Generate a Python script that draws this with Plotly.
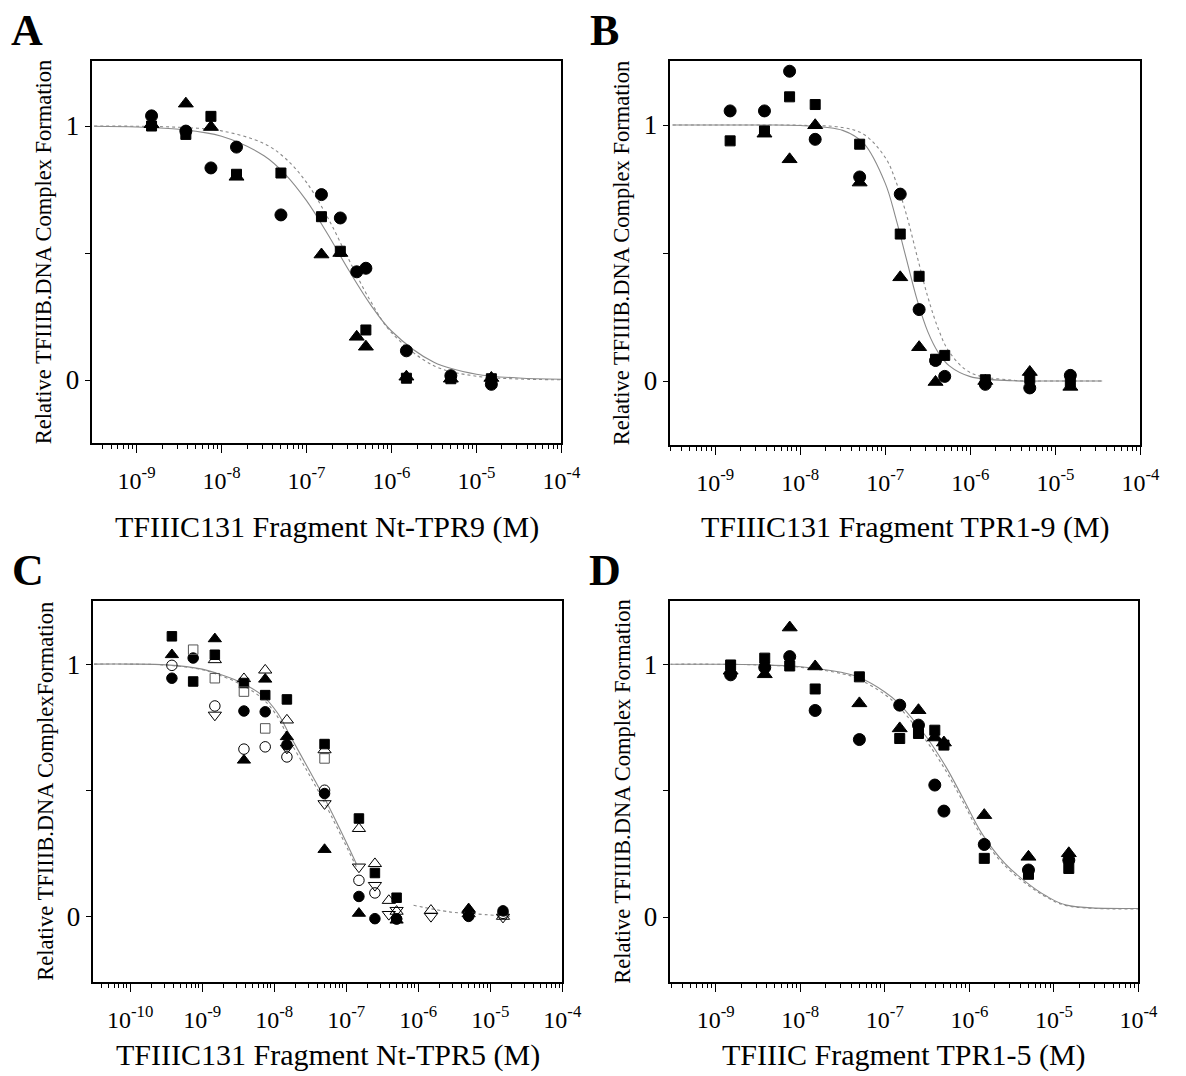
import plotly.graph_objects as go

W, H = 1186, 1076
FONT = "Liberation Serif"

# ---------------- Panel A : Nt-TPR9 ----------------
a_circ_x = [1.5e-9, 3.8e-9, 7.5e-9, 1.5e-8, 5e-8, 1.5e-7, 2.5e-7, 3.9e-7, 5e-7, 1.5e-6, 5e-6, 1.5e-5]
a_circ_y = [1.04, 0.98, 0.835, 0.917, 0.65, 0.73, 0.638, 0.426, 0.44, 0.115, 0.017, -0.017]
a_sq_x = [1.5e-9, 3.8e-9, 7.5e-9, 1.5e-8, 5e-8, 1.5e-7, 2.5e-7, 5e-7, 1.5e-6, 5e-6, 1.5e-5]
a_sq_y = [1.0, 0.967, 1.038, 0.81, 0.815, 0.643, 0.507, 0.197, 0.007, 0.005, 0.005]
a_tri_x = [1.5e-9, 3.8e-9, 7.5e-9, 1.5e-8, 1.5e-7, 2.5e-7, 3.9e-7, 5e-7, 1.5e-6, 5e-6, 1.5e-5]
a_tri_y = [1.007, 1.088, 0.996, 0.80, 0.494, 0.50, 0.17, 0.131, 0.013, 0.005, 0.008]
a_fit_x = [3.16e-10, 1e-9, 3.16e-9, 1e-8, 3.16e-8, 5.62e-8, 1e-7, 1.78e-7, 3.16e-7, 5.62e-7, 1e-6, 3.16e-6, 1e-5, 3.16e-5, 1e-4]
a_fit1_y = [0.999, 0.996, 0.987, 0.960, 0.883, 0.810, 0.706, 0.574, 0.431, 0.299, 0.193, 0.070, 0.023, 0.008, 0.003]
a_fit2_y = [1.0, 0.999, 0.995, 0.981, 0.931, 0.873, 0.778, 0.639, 0.473, 0.313, 0.187, 0.056, 0.015, 0.004, 0.001]

# ---------------- Panel B : TPR1-9 ----------------
b_circ_x = [1.5e-9, 3.8e-9, 7.5e-9, 1.5e-8, 5e-8, 1.5e-7, 2.5e-7, 3.9e-7, 5e-7, 1.5e-6, 5e-6, 1.5e-5]
b_circ_y = [1.055, 1.055, 1.21, 0.944, 0.797, 0.73, 0.279, 0.08, 0.018, -0.013, -0.027, 0.022]
b_sq_x = [1.5e-9, 3.8e-9, 7.5e-9, 1.5e-8, 5e-8, 1.5e-7, 2.5e-7, 3.9e-7, 5e-7, 1.5e-6, 5e-6, 1.5e-5]
b_sq_y = [0.938, 0.977, 1.11, 1.08, 0.925, 0.574, 0.409, 0.085, 0.10, 0.005, 0.01, -0.004]
b_tri_x = [3.8e-9, 7.5e-9, 1.5e-8, 5e-8, 1.5e-7, 2.5e-7, 3.9e-7, 1.5e-6, 5e-6, 1.5e-5]
b_tri_y = [0.966, 0.866, 0.999, 0.775, 0.405, 0.132, -0.004, 0.0, 0.035, -0.023]
b_fit_x = [3.16e-10, 1e-9, 3.16e-9, 1e-8, 3.16e-8, 5.62e-8, 1e-7, 1.33e-7, 1.78e-7, 2.37e-7, 3.16e-7,
           4.22e-7, 5.62e-7, 1e-6, 3.16e-6, 1e-5, 3.55e-5]
b_fit1_y = [1.0, 1.0, 1.0, 0.998, 0.979, 0.927, 0.772, 0.636, 0.474, 0.317, 0.193, 0.11, 0.06, 0.017, 0.001, 0.0, 0.0]
b_fit2_y = [1.0, 1.0, 1.0, 0.999, 0.990, 0.963, 0.873, 0.781, 0.648, 0.487, 0.329, 0.202, 0.115, 0.033, 0.003, 0.0, 0.0]

# ---------------- Panel C : Nt-TPR5 ----------------
c_fcirc_x = [3.8e-10, 7.5e-10, 3.8e-9, 7.5e-9, 1.5e-8, 5e-8, 1.5e-7, 2.5e-7, 5e-7, 5e-6, 1.5e-5]
c_fcirc_y = [0.944, 1.024, 0.814, 0.811, 0.68, 0.487, 0.079, -0.009, -0.01, 0.0, 0.022]
c_fsq_x = [3.8e-10, 7.5e-10, 1.5e-9, 3.8e-9, 7.5e-9, 1.5e-8, 5e-8, 1.5e-7, 2.5e-7, 5e-7]
c_fsq_y = [1.11, 0.931, 1.037, 0.925, 0.877, 0.86, 0.683, 0.388, 0.172, 0.074]
c_ftri_x = [3.8e-10, 1.5e-9, 3.8e-9, 7.5e-9, 1.5e-8, 5e-8, 1.5e-7, 5e-7, 5e-6]
c_ftri_y = [1.037, 1.10, 0.619, 0.94, 0.712, 0.265, 0.012, -0.015, 0.03]
c_ocirc_x = [3.8e-10, 1.5e-9, 3.8e-9, 7.5e-9, 1.5e-8, 5e-8, 1.5e-7, 2.5e-7, 5e-7, 5e-6, 1.5e-5]
c_ocirc_y = [0.995, 0.834, 0.663, 0.672, 0.632, 0.50, 0.143, 0.093, -0.01, 0.017, 0.012]
c_osq_x = [7.5e-10, 1.5e-9, 3.8e-9, 7.5e-9, 5e-8]
c_osq_y = [1.057, 0.944, 0.891, 0.745, 0.626]
c_oup_x = [1.5e-9, 3.8e-9, 7.5e-9, 1.5e-8, 5e-8, 1.5e-7, 2.5e-7, 3.9e-7, 5e-7, 1.5e-6, 5e-6, 1.5e-5]
c_oup_y = [1.017, 0.942, 0.976, 0.778, 0.66, 0.348, 0.209, 0.063, 0.02, 0.024, 0.01, 0.0]
c_odn_x = [1.5e-9, 1.5e-8, 5e-8, 1.5e-7, 2.5e-7, 3.9e-7, 5e-7, 1.5e-6, 5e-6, 1.5e-5]
c_odn_y = [0.798, 0.667, 0.447, 0.196, 0.123, 0.008, 0.024, 0.0, 0.005, -0.003]
c_fit_x = [3.16e-11, 1e-10, 3.16e-10, 1e-9, 1.58e-9, 3.16e-9, 6.76e-9, 1.12e-8, 1.62e-8, 2.88e-8, 4.9e-8, 8.32e-8, 1.38e-7]
c_fit1_y = [1.0, 1.0, 0.997, 0.98, 0.964, 0.932, 0.877, 0.805, 0.722, 0.593, 0.473, 0.341, 0.209]
c_fit2_y = [1.0, 1.0, 0.996, 0.978, 0.96, 0.925, 0.865, 0.79, 0.70, 0.575, 0.455, 0.325, 0.196]
c_tail_x = [8.6e-7, 2.7e-6, 5e-6, 1.86e-5]
c_tail_y = [0.044, 0.018, 0.012, 0.0]

# ---------------- Panel D : TPR1-5 ----------------
d_x = [1.5e-9, 3.8e-9, 7.5e-9, 1.5e-8, 5e-8, 1.5e-7, 2.5e-7, 3.9e-7, 5e-7, 1.5e-6, 5e-6, 1.5e-5]
d_circ_y = [0.958, 0.987, 1.03, 0.817, 0.702, 0.838, 0.759, 0.522, 0.419, 0.287, 0.186, 0.225]
d_sq_y = [0.997, 1.024, 0.993, 0.902, 0.95, 0.706, 0.726, 0.739, 0.68, 0.232, 0.169, 0.192]
d_tri_y = [0.974, 0.96, 1.145, 0.991, 0.845, 0.746, 0.818, 0.71, 0.69, 0.403, 0.238, 0.252]
d_fit_x = [2.82e-10, 1e-9, 3.16e-9, 1e-8, 3.16e-8, 4.79e-8, 1e-7, 1.46e-7, 3.09e-7, 5.28e-7, 8.26e-7,
           1.41e-6, 2.63e-6, 4.9e-6, 7.94e-6, 1.41e-5, 1e-4]
d_fit1_y = [1.0, 1.0, 0.998, 0.99, 0.967, 0.95, 0.89, 0.845, 0.713, 0.594, 0.475, 0.33, 0.212, 0.133, 0.085, 0.047, 0.034]
d_fit2_y = [1.0, 1.0, 0.997, 0.988, 0.962, 0.943, 0.88, 0.832, 0.697, 0.578, 0.46, 0.318, 0.203, 0.127, 0.081, 0.045, 0.032]

x_tick_vals_9 = [1e-9, 1e-8, 1e-7, 1e-6, 1e-5, 1e-4]
x_tick_text_9 = ["10<sup>-9</sup>", "10<sup>-8</sup>", "10<sup>-7</sup>", "10<sup>-6</sup>", "10<sup>-5</sup>", "10<sup>-4</sup>"]
x_tick_vals_10 = [1e-10] + x_tick_vals_9
x_tick_text_10 = ["10<sup>-10</sup>"] + x_tick_text_9

x_titles = ["TFIIIC131 Fragment Nt-TPR9 (M)", "TFIIIC131 Fragment TPR1-9 (M)",
            "TFIIIC131 Fragment Nt-TPR5 (M)", "TFIIIC Fragment TPR1-5 (M)"]
y_titles = ["Relative TFIIIB.DNA Complex Formation", "Relative TFIIIB.DNA Complex Formation",
            "Relative TFIIIB.DNA ComplexFormation", "Relative TFIIIB.DNA Complex Formation"]
letters = ["A", "B", "C", "D"]

# ------------- layout geometry (pixels) -------------
# (left, right, top, bottom) of each plotting frame
frames = [(94, 571, 61, 443), (682, 1160, 61, 445), (95, 572, 601, 982), (682, 1158, 601, 982)]
xranges = [[-9.52, -4.0], [-9.525, -4.0], [-10.51, -4.0], [-9.535, -4.0]]
yranges = [[-0.248, 1.256], [-0.25, 1.25], [-0.26, 1.25], [-0.257, 1.25]]
xtitle_y = [527, 527, 1055, 1055]


def px(x):
    return x / W


def py(y):
    return 1 - y / H


fig = go.Figure()

BLACK = "black"
CURVE = "#8a8a8a"


def add_curve(i, xs, ys, dash):
    fig.add_trace(go.Scatter(x=xs, y=ys, mode="lines", xaxis=f"x{i+1}", yaxis=f"y{i+1}",
                             line=dict(color=CURVE, width=1.1, dash=dash, shape="spline", smoothing=1.0),
                             showlegend=False, hoverinfo="skip"))


def add_pts(i, xs, ys, symbol, size, color=BLACK, lw=1.0):
    fig.add_trace(go.Scatter(x=xs, y=ys, mode="markers", xaxis=f"x{i+1}", yaxis=f"y{i+1}",
                             marker=dict(symbol=symbol, size=size, color=color,
                                         line=dict(color=color, width=lw)),
                             showlegend=False))


# Panel A
add_curve(0, a_fit_x, a_fit1_y, "solid")
add_curve(0, a_fit_x, a_fit2_y, "dot")
add_pts(0, a_circ_x, a_circ_y, "circle", 12)
add_pts(0, a_sq_x, a_sq_y, "square", 10)
add_pts(0, a_tri_x, a_tri_y, "triangle-up", 13)

# Panel B
add_curve(1, b_fit_x, b_fit1_y, "solid")
add_curve(1, b_fit_x, b_fit2_y, "dot")
add_pts(1, b_circ_x, b_circ_y, "circle", 12)
add_pts(1, b_sq_x, b_sq_y, "square", 10)
add_pts(1, b_tri_x, b_tri_y, "triangle-up", 13)

# Panel C
add_curve(2, c_fit_x, c_fit1_y, "solid")
add_curve(2, c_fit_x, c_fit2_y, "dot")
add_curve(2, c_tail_x, c_tail_y, "dot")
add_pts(2, c_fcirc_x, c_fcirc_y, "circle", 10.5)
add_pts(2, c_fsq_x, c_fsq_y, "square", 9.5)
add_pts(2, c_ftri_x, c_ftri_y, "triangle-up", 11.5)
add_pts(2, c_ocirc_x, c_ocirc_y, "circle-open", 10.5)
add_pts(2, c_osq_x, c_osq_y, "square-open", 9.5, color="#555555")
add_pts(2, c_oup_x, c_oup_y, "triangle-up-open", 11.5)
add_pts(2, c_odn_x, c_odn_y, "triangle-down-open", 11.5)

# Panel D
add_curve(3, d_fit_x, d_fit1_y, "solid")
add_curve(3, d_fit_x, d_fit2_y, "dot")
add_pts(3, d_x, d_circ_y, "circle", 12)
add_pts(3, d_x, d_sq_y, "square", 10)
add_pts(3, d_x, d_tri_y, "triangle-up", 13)

layout = dict(width=W, height=H, margin=dict(l=0, r=0, t=0, b=0),
              paper_bgcolor="white", plot_bgcolor="white", showlegend=False,
              font=dict(family=FONT, color=BLACK))

annotations = []
for i in range(4):
    l, r, t, b = frames[i]
    if i == 2:
        tv, tt, dec0 = x_tick_vals_10, x_tick_text_10, -11
    else:
        tv, tt, dec0 = x_tick_vals_9, x_tick_text_9, -10
    minor_vals = [m * 10.0 ** d for d in range(dec0, -4) for m in range(2, 10)]
    layout[f"xaxis{i+1}"] = dict(
        type="log", domain=[px(l), px(r)], range=xranges[i], anchor=f"y{i+1}",
        showline=True, linecolor=BLACK, linewidth=1.5, mirror=True,
        showgrid=False, zeroline=False,
        ticks="outside", ticklen=8, tickwidth=1.2, tickcolor=BLACK,
        tickmode="array", tickvals=tv, ticktext=tt, ticklabelstandoff=7,
        tickfont=dict(family=FONT, size=24, color=BLACK),
        minor=dict(tickmode="array", tickvals=minor_vals, ticks="outside", ticklen=4,
                   tickwidth=1, tickcolor=BLACK, showgrid=False),
    )
    layout[f"yaxis{i+1}"] = dict(
        domain=[py(b), py(t)], range=yranges[i], anchor=f"x{i+1}",
        showline=True, linecolor=BLACK, linewidth=1.5, mirror=True,
        showgrid=False, zeroline=False,
        ticks="outside", ticklen=6, tickwidth=1.2, tickcolor=BLACK,
        tickmode="array", tickvals=[0, 1], ticktext=["0", "1"], ticklabelstandoff=0,
        tickfont=dict(family=FONT, size=27, color=BLACK),
        minor=dict(tickmode="array", tickvals=[0.5], ticks="outside", ticklen=6,
                   tickwidth=1.2, tickcolor=BLACK, showgrid=False),
    )
    # x-axis title
    annotations.append(dict(text=x_titles[i], xref="paper", yref="paper",
                            x=px((l + r) / 2), y=py(xtitle_y[i]), xanchor="center", yanchor="middle",
                            showarrow=False, font=dict(family=FONT, size=30, color=BLACK)))
    # y-axis title
    annotations.append(dict(text=y_titles[i], xref="paper", yref="paper",
                            x=px(l - 49), y=py((t + b) / 2), xanchor="center", yanchor="middle",
                            textangle=-90, showarrow=False,
                            font=dict(family=FONT, size=22.5, color=BLACK)))
    # panel letter
    annotations.append(dict(text=f"<b>{letters[i]}</b>", xref="paper", yref="paper",
                            x=px(l - 67), y=py(t - 31), xanchor="center", yanchor="middle",
                            showarrow=False, font=dict(family=FONT, size=44, color=BLACK)))

layout["annotations"] = annotations
fig.update_layout(**layout)
fig.write_html("out.html")
